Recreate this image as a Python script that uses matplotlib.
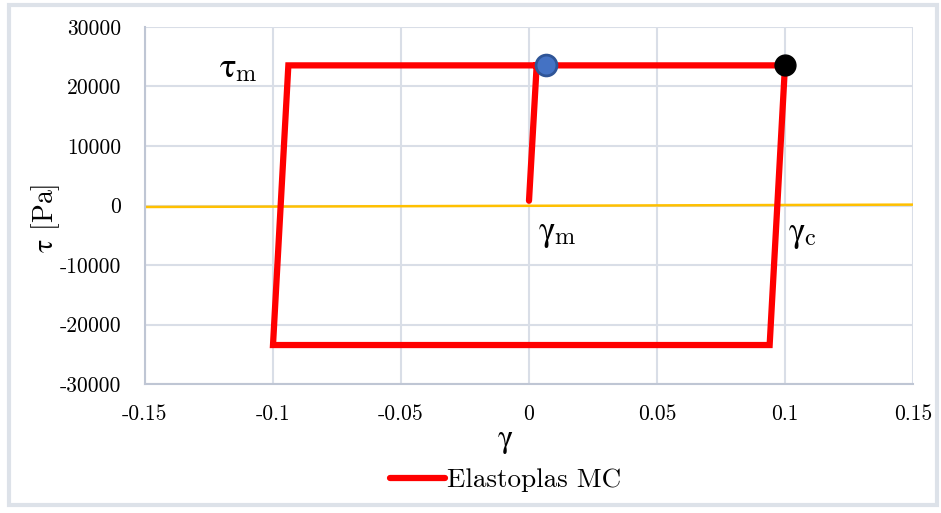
import matplotlib
matplotlib.use("Agg")
import matplotlib.pyplot as plt
from matplotlib.patches import Rectangle

plt.rcParams['font.family'] = ['cmr10', 'STIXGeneral', 'DejaVu Serif']
plt.rcParams['mathtext.fontset'] = 'custom'
plt.rcParams['mathtext.rm'] = 'cmr10'
plt.rcParams['mathtext.it'] = 'STIXGeneral'
plt.rcParams['axes.unicode_minus'] = False

# hysteresis path (gamma, tau)
gamma = [0.0, 0.003, 0.1, 0.094, -0.1, -0.094, 0.003]
tau = [800, 23550, 23550, -23450, -23450, 23550, 23550]

# reference line near tau = 0
ref_gamma = [-0.15, 0.15]
ref_tau = [-250, 150]

# marked points
gamma_m_pt = (0.0065, 23550)
gamma_c_pt = (0.1, 23550)

xticks = [-0.15, -0.1, -0.05, 0, 0.05, 0.1, 0.15]
xtick_labels = ["-0.15", "-0.1", "-0.05", "0", "0.05", "0.1", "0.15"]
yticks = [-30000, -20000, -10000, 0, 10000, 20000, 30000]
ytick_labels = ["-30000", "-20000", "-10000", "0", "10000", "20000", "30000"]

fig = plt.figure(figsize=(9.41, 5.13), dpi=100)
ax = fig.add_axes([145 / 941, 1 - 384 / 513, (913 - 145) / 941, (384 - 27) / 513])

grid_c = "#D9DEE7"
ax.set_xlim(-0.15, 0.15)
ax.set_ylim(-30000, 30000)
ax.set_xticks(xticks)
ax.set_xticklabels(xtick_labels)
ax.set_yticks(yticks)
ax.set_yticklabels(ytick_labels)
ax.tick_params(length=0, labelsize=15.5)
ax.tick_params(axis="y", pad=17)
ax.tick_params(axis="x", pad=15)
ax.grid(True, color=grid_c, linewidth=1.5, zorder=0)
ax.set_axisbelow(True)
for s in ["top", "right"]:
    ax.spines[s].set_visible(False)
for s in ["left", "bottom"]:
    ax.spines[s].set_color("#BFC6D4")
    ax.spines[s].set_linewidth(1.5)

ax.plot(ref_gamma, ref_tau, color="#FFC000", linewidth=1.8, zorder=2)
ax.plot(gamma, tau, color="#FF0000", linewidth=4.5, solid_joinstyle="miter",
        solid_capstyle="round", zorder=3, label="Elastoplas MC")
ax.plot(*gamma_m_pt, marker="o", markersize=15, markerfacecolor="#4472C4",
        markeredgecolor="#2F5597", markeredgewidth=2, zorder=4)
ax.plot(*gamma_c_pt, marker="o", markersize=15, markerfacecolor="black",
        markeredgecolor="black", zorder=4)

ax.text(-0.121, 23000, r"$\tau_\mathrm{m}$", fontsize=25, ha="left", va="center")
ax.text(0.0035, -4800, r"$\gamma_\mathrm{m}$", fontsize=25, ha="left", va="center")
ax.text(0.101, -5000, r"$\gamma_\mathrm{c}$", fontsize=25, ha="left", va="center")

ax.set_xlabel(r"$\gamma$", fontsize=23)
ax.xaxis.set_label_coords(0.469, -0.125)
ax.set_ylabel(r"$\tau$ [Pa]", fontsize=20)
ax.yaxis.set_label_coords(-0.108, 0.465)

ax.legend(loc="center", bbox_to_anchor=(0.47, -0.27), frameon=False,
          fontsize=19.5, handlelength=2.0, handletextpad=0.1)

fig.patches.append(Rectangle((9 / 941, 8 / 513), 928 / 941, 500 / 513,
                             transform=fig.transFigure, fill=False,
                             edgecolor="#DDE2E9", linewidth=3))

plt.savefig("out.png", dpi=100)
